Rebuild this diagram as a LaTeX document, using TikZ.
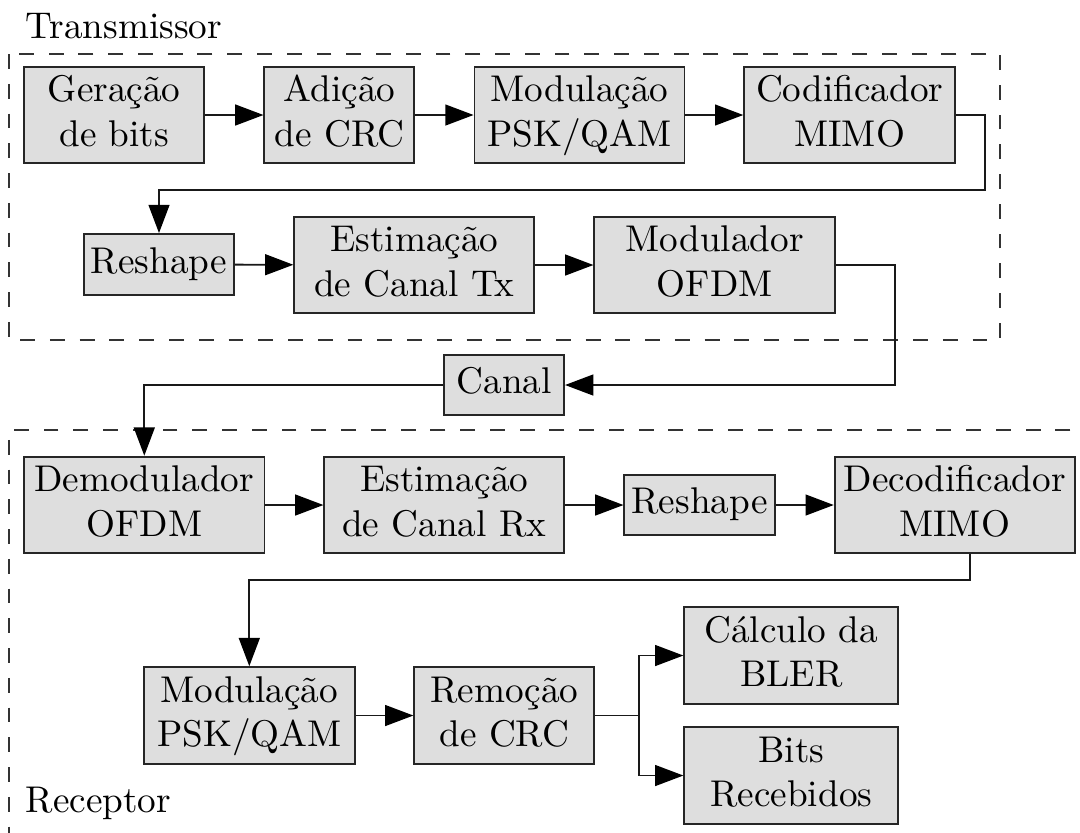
\documentclass[tikz,border=0pt]{standalone}
\usepackage{fontspec}
\usetikzlibrary{arrows.meta}
\begin{document}
\begin{tikzpicture}[x=0.26882pt,y=-0.26882pt,
  blk/.style={draw=black!85, line width=0.5pt, fill=black!13, align=center, inner sep=1pt, minimum width=#1*0.26882pt},
  two/.style={blk=#1, minimum height=90*0.26882pt},
  one/.style={blk=#1, minimum height=60*0.26882pt},
  con/.style={draw=black!90, line width=0.5pt},
  arr/.style={con, -{Triangle[length=7.6pt,width=5.6pt,color=black,fill=black]}},
  dsh/.style={draw=black!80, line width=0.5pt, dash pattern=on 4pt off 4pt},
  lbl/.style={anchor=base west, inner sep=0pt}]
\useasboundingbox (0,0) rectangle (1080,832);
% groups
\draw[dsh] (8.6,54) rectangle (1000,340);
\draw[dsh] (1100,430) -- (8.6,430) -- (8.6,900);
\node[lbl] (tx) at (25,38.3) {Transmissor};
\node[lbl] (rx) at (25,812.7) {Receptor};
% transmitter
\node[two=180] (gen) at (114.2,115) {\strut Geração\\\strut de bits};
\node[two=150] (crc) at (339.4,115) {\strut Adição\\\strut de CRC};
\node[two=210] (mod) at (579.5,115) {\strut Modulação\\\strut PSK/QAM};
\node[two=211] (cod) at (849.7,115) {\strut Codificador\\\strut MIMO};
\node[one=150.5, minimum height=61*0.26882pt] (resh) at (159,264.5) {\strut Reshape};
\node[two=240] (esttx) at (414.3,265) {\strut Estimação\\\strut de Canal Tx};
\node[two=240.7] (ofdm) at (714.7,265) {\strut Modulador\\\strut OFDM};
% channel
\node[one=120] (canal) at (504.1,385) {\strut Canal};
% receiver
\node[two=240.4] (demod) at (144.3,505) {\strut Demodulador\\\strut OFDM};
\node[two=239.7] (estrx) at (444.2,505) {\strut Estimação\\\strut de Canal Rx};
\node[one=150.4] (reshrx) at (699.6,505) {\strut Reshape};
\node[two=240] (decod) at (954.7,505) {\strut Decodificador\\\strut MIMO};
\node[two=211, minimum height=91*0.26882pt] (modrx) at (249.3,715.5) {\strut Modulação\\\strut PSK/QAM};
\node[two=180, minimum height=91*0.26882pt] (rem) at (504.3,715.5) {\strut Remoção\\\strut de CRC};
\node[two=214, minimum height=89*0.26882pt] (calc) at (791.3,655.5) {\strut Cálculo da\\\strut BLER};
\node[two=214, minimum height=89*0.26882pt] (bits) at (791.3,775.5) {\strut Bits\\\strut Recebidos};
% helper coordinates
\coordinate (c1) at (985.2,190);
\coordinate (c2) at (894.7,385);
\coordinate (c3) at (970,580);
\coordinate (c4) at (639.3,715.5);
% connectors
\draw[arr] (gen) -- (crc);
\draw[arr] (crc) -- (mod);
\draw[arr] (mod) -- (cod);
\draw[arr] (cod.east) -| (c1) -| (resh.north);
\draw[arr] (resh) -- (esttx);
\draw[arr] (esttx) -- (ofdm);
\draw[arr] (ofdm.east) -| (c2) -- (canal.east);
\draw[arr] (canal.west) -| (demod.north);
\draw[arr] (demod) -- (estrx);
\draw[arr] (estrx) -- (reshrx);
\draw[arr] (reshrx) -- (decod);
\draw[arr] (c3 |- decod.south) -- (c3) -| (modrx.north);
\draw[arr] (modrx) -- (rem);
\draw[con] (rem.east) -- (c4);
\draw[arr] (c4) |- (calc.west);
\draw[arr] (c4) |- (bits.west);
\end{tikzpicture}
\end{document}
